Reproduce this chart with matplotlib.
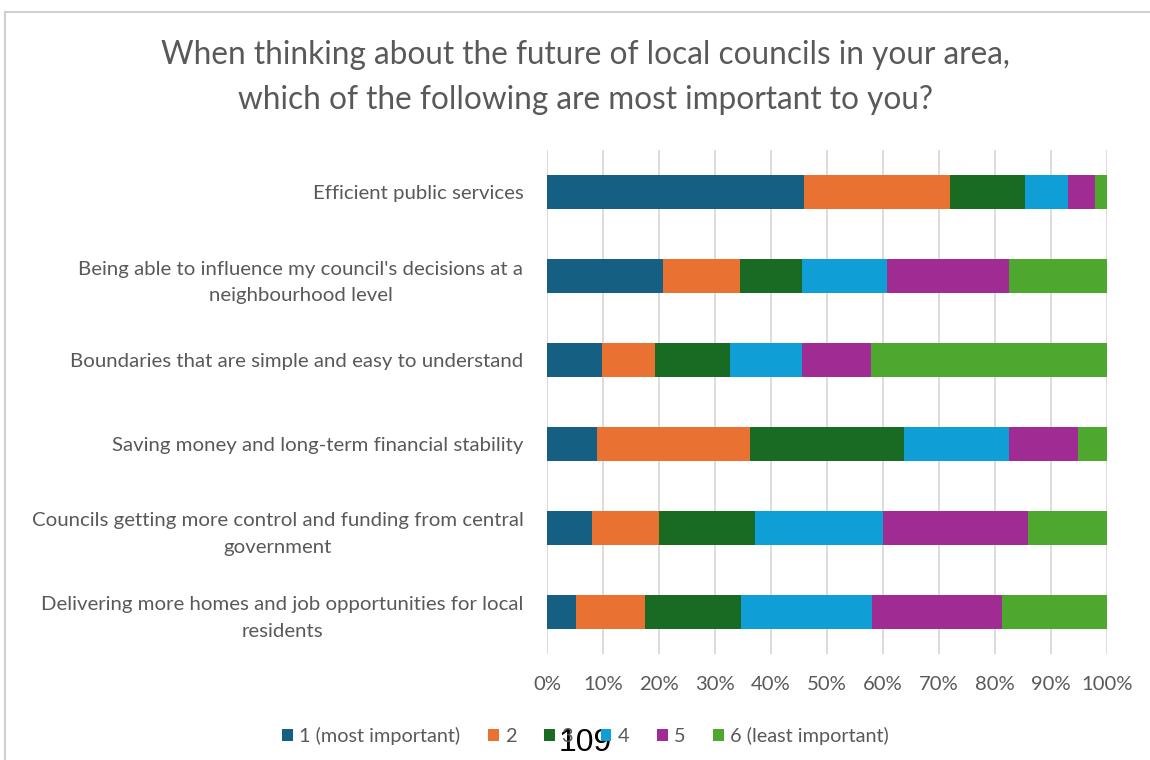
import matplotlib.pyplot as plt
from matplotlib.lines import Line2D
from matplotlib.patches import Patch

plt.rcParams['font.family'] = ['Lato', 'DejaVu Sans']

# survey answers, percentage of respondents per rank
categories = [
    "Efficient public services",
    "Being able to influence my council's decisions at a\nneighbourhood level",
    "Boundaries that are simple and easy to understand",
    "Saving money and long-term financial stability",
    "Councils getting more control and funding from central\ngovernment",
    "Delivering more homes and job opportunities for local\nresidents",
]
rank1 = [45.8, 20.7, 9.9, 8.9, 8.1, 5.1]
rank2 = [26.1, 13.8, 9.4, 27.4, 11.8, 12.4]
rank3 = [13.4, 11.1, 13.3, 27.4, 17.2, 17.2]
rank4 = [7.7, 15.1, 13.0, 18.7, 22.8, 23.4]
rank5 = [4.8, 21.7, 12.3, 12.4, 26.0, 23.2]
rank6 = [2.2, 17.6, 42.1, 5.2, 14.1, 18.7]
series_names = ["1 (most important)", "2", "3", "4", "5", "6 (least important)"]
colors = ["#156082", "#E97132", "#196B24", "#0F9ED5", "#A02B93", "#4EA72E"]
grey = "#595959"

fig = plt.figure(figsize=(11.5, 7.6), dpi=100)
ax = fig.add_axes([0.4757, 0.1395, 0.4870, 0.6631])

series = [rank1, rank2, rank3, rank4, rank5, rank6]
ypos = list(range(len(categories)))
left = [0.0] * len(categories)
for vals, col, name in zip(series, colors, series_names):
    ax.barh(ypos, vals, left=left, height=0.4, color=col, label=name, zorder=3)
    left = [l + v for l, v in zip(left, vals)]

ax.set_ylim(len(categories) - 0.5, -0.5)
ax.set_xlim(0, 100)
ax.set_xticks(range(0, 101, 10))
ax.set_xticklabels([f"{t}%" for t in range(0, 101, 10)])
ax.set_yticks(ypos)
ax.set_yticklabels(categories)
for lab in ax.get_yticklabels():
    lab.set_multialignment('center')
    lab.set_linespacing(1.65)

ax.xaxis.grid(True, color="#d9d9d9", linewidth=1.3, zorder=0)
for s in ['top', 'bottom', 'left', 'right']:
    ax.spines[s].set_visible(False)
ax.tick_params(axis='x', length=0, pad=16, labelsize=14.6, labelcolor=grey)
ax.tick_params(axis='y', length=0, pad=17, labelsize=14.7, labelcolor=grey)

fig.text(0.509, 0.898,
         "When thinking about the future of local councils in your area,\n"
         "which of the following are most important to you?",
         ha='center', va='center', fontsize=22.7, color=grey, linespacing=1.65)

handles = [Patch(facecolor=c, edgecolor='none') for c in colors]
fig.legend(handles, series_names, loc='center', bbox_to_anchor=(0.509, 0.032),
           ncol=6, frameon=False, fontsize=14.3, labelcolor=grey,
           handlelength=0.55, handleheight=0.55, handletextpad=0.3,
           columnspacing=1.4)

# page number printed over the legend
fig.text(0.509, 0.022, "109", ha='center', va='center', fontsize=23,
         color='black', family=['Liberation Sans', 'DejaVu Sans'])

# chart frame edge
fig.add_artist(Line2D([0.0045, 1.0], [0.984, 0.984], color="#d0d0d0", linewidth=1.5))
fig.add_artist(Line2D([0.0045, 0.0045], [0.0, 0.984], color="#d0d0d0", linewidth=1.5))

fig.savefig("out.png", dpi=100, facecolor='white')
